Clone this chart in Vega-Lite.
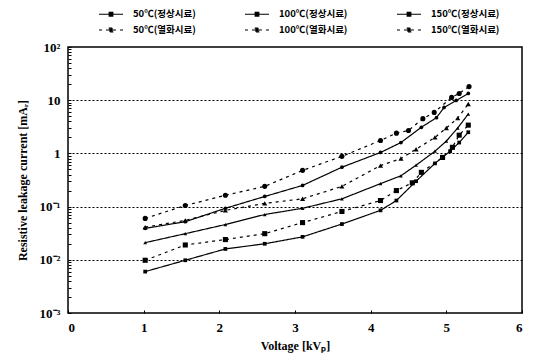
{
  "$schema": "https://vega.github.io/schema/vega-lite/v6.json",
  "width": 454,
  "height": 266,
  "autosize": {"type": "none"},
  "padding": {"left": 68, "top": 47, "right": 14, "bottom": 49},
  "background": "white",
  "config": {"view": {"stroke": "black", "strokeWidth": 1.5}, "font": "Liberation Serif"},
  "data": {"values": [
    {"s": "50℃(정상시료)", "t": 50, "c": "정상", "v": 1.02, "i": 0.006},
    {"s": "50℃(정상시료)", "t": 50, "c": "정상", "v": 1.55, "i": 0.0098},
    {"s": "50℃(정상시료)", "t": 50, "c": "정상", "v": 2.08, "i": 0.016},
    {"s": "50℃(정상시료)", "t": 50, "c": "정상", "v": 2.6, "i": 0.02},
    {"s": "50℃(정상시료)", "t": 50, "c": "정상", "v": 3.1, "i": 0.027},
    {"s": "50℃(정상시료)", "t": 50, "c": "정상", "v": 3.62, "i": 0.047},
    {"s": "50℃(정상시료)", "t": 50, "c": "정상", "v": 4.13, "i": 0.085},
    {"s": "50℃(정상시료)", "t": 50, "c": "정상", "v": 4.34, "i": 0.13},
    {"s": "50℃(정상시료)", "t": 50, "c": "정상", "v": 4.6, "i": 0.3},
    {"s": "50℃(정상시료)", "t": 50, "c": "정상", "v": 4.85, "i": 0.65},
    {"s": "50℃(정상시료)", "t": 50, "c": "정상", "v": 5.05, "i": 1.1},
    {"s": "50℃(정상시료)", "t": 50, "c": "정상", "v": 5.17, "i": 1.6},
    {"s": "50℃(정상시료)", "t": 50, "c": "정상", "v": 5.29, "i": 2.5},
    {"s": "100℃(정상시료)", "t": 100, "c": "정상", "v": 1.02, "i": 0.021},
    {"s": "100℃(정상시료)", "t": 100, "c": "정상", "v": 1.55, "i": 0.031},
    {"s": "100℃(정상시료)", "t": 100, "c": "정상", "v": 2.08, "i": 0.046},
    {"s": "100℃(정상시료)", "t": 100, "c": "정상", "v": 2.6, "i": 0.071},
    {"s": "100℃(정상시료)", "t": 100, "c": "정상", "v": 3.1, "i": 0.093},
    {"s": "100℃(정상시료)", "t": 100, "c": "정상", "v": 3.62, "i": 0.14},
    {"s": "100℃(정상시료)", "t": 100, "c": "정상", "v": 4.13, "i": 0.27},
    {"s": "100℃(정상시료)", "t": 100, "c": "정상", "v": 4.4, "i": 0.38},
    {"s": "100℃(정상시료)", "t": 100, "c": "정상", "v": 4.6, "i": 0.6},
    {"s": "100℃(정상시료)", "t": 100, "c": "정상", "v": 4.85, "i": 1.1},
    {"s": "100℃(정상시료)", "t": 100, "c": "정상", "v": 5.0, "i": 1.7},
    {"s": "100℃(정상시료)", "t": 100, "c": "정상", "v": 5.15, "i": 3.0},
    {"s": "100℃(정상시료)", "t": 100, "c": "정상", "v": 5.29, "i": 5.5},
    {"s": "150℃(정상시료)", "t": 150, "c": "정상", "v": 1.02, "i": 0.039},
    {"s": "150℃(정상시료)", "t": 150, "c": "정상", "v": 1.55, "i": 0.052},
    {"s": "150℃(정상시료)", "t": 150, "c": "정상", "v": 2.08, "i": 0.093},
    {"s": "150℃(정상시료)", "t": 150, "c": "정상", "v": 2.6, "i": 0.155},
    {"s": "150℃(정상시료)", "t": 150, "c": "정상", "v": 3.1, "i": 0.25},
    {"s": "150℃(정상시료)", "t": 150, "c": "정상", "v": 3.62, "i": 0.55},
    {"s": "150℃(정상시료)", "t": 150, "c": "정상", "v": 4.13, "i": 1.04},
    {"s": "150℃(정상시료)", "t": 150, "c": "정상", "v": 4.4, "i": 1.6},
    {"s": "150℃(정상시료)", "t": 150, "c": "정상", "v": 4.67, "i": 3.1},
    {"s": "150℃(정상시료)", "t": 150, "c": "정상", "v": 4.87, "i": 4.7},
    {"s": "150℃(정상시료)", "t": 150, "c": "정상", "v": 4.97, "i": 7.3},
    {"s": "150℃(정상시료)", "t": 150, "c": "정상", "v": 5.13, "i": 9.9},
    {"s": "150℃(정상시료)", "t": 150, "c": "정상", "v": 5.29, "i": 13.4},
    {"s": "50℃(열화시료)", "t": 50, "c": "열화", "v": 1.02, "i": 0.0098},
    {"s": "50℃(열화시료)", "t": 50, "c": "열화", "v": 1.55, "i": 0.019},
    {"s": "50℃(열화시료)", "t": 50, "c": "열화", "v": 2.08, "i": 0.024},
    {"s": "50℃(열화시료)", "t": 50, "c": "열화", "v": 2.6, "i": 0.031},
    {"s": "50℃(열화시료)", "t": 50, "c": "열화", "v": 3.1, "i": 0.05},
    {"s": "50℃(열화시료)", "t": 50, "c": "열화", "v": 3.62, "i": 0.081},
    {"s": "50℃(열화시료)", "t": 50, "c": "열화", "v": 4.13, "i": 0.13},
    {"s": "50℃(열화시료)", "t": 50, "c": "열화", "v": 4.34, "i": 0.2},
    {"s": "50℃(열화시료)", "t": 50, "c": "열화", "v": 4.55, "i": 0.28},
    {"s": "50℃(열화시료)", "t": 50, "c": "열화", "v": 4.67, "i": 0.44},
    {"s": "50℃(열화시료)", "t": 50, "c": "열화", "v": 4.95, "i": 0.84},
    {"s": "50℃(열화시료)", "t": 50, "c": "열화", "v": 5.08, "i": 1.3},
    {"s": "50℃(열화시료)", "t": 50, "c": "열화", "v": 5.17, "i": 2.2},
    {"s": "50℃(열화시료)", "t": 50, "c": "열화", "v": 5.29, "i": 3.4},
    {"s": "100℃(열화시료)", "t": 100, "c": "열화", "v": 1.02, "i": 0.041},
    {"s": "100℃(열화시료)", "t": 100, "c": "열화", "v": 1.55, "i": 0.055},
    {"s": "100℃(열화시료)", "t": 100, "c": "열화", "v": 2.08, "i": 0.085},
    {"s": "100℃(열화시료)", "t": 100, "c": "열화", "v": 2.6, "i": 0.115},
    {"s": "100℃(열화시료)", "t": 100, "c": "열화", "v": 3.1, "i": 0.14},
    {"s": "100℃(열화시료)", "t": 100, "c": "열화", "v": 3.62, "i": 0.24},
    {"s": "100℃(열화시료)", "t": 100, "c": "열화", "v": 4.13, "i": 0.59},
    {"s": "100℃(열화시료)", "t": 100, "c": "열화", "v": 4.4, "i": 0.8},
    {"s": "100℃(열화시료)", "t": 100, "c": "열화", "v": 4.6, "i": 1.2},
    {"s": "100℃(열화시료)", "t": 100, "c": "열화", "v": 4.85, "i": 2.0},
    {"s": "100℃(열화시료)", "t": 100, "c": "열화", "v": 5.0, "i": 3.0},
    {"s": "100℃(열화시료)", "t": 100, "c": "열화", "v": 5.15, "i": 4.6},
    {"s": "100℃(열화시료)", "t": 100, "c": "열화", "v": 5.29, "i": 8.5},
    {"s": "150℃(열화시료)", "t": 150, "c": "열화", "v": 1.02, "i": 0.06},
    {"s": "150℃(열화시료)", "t": 150, "c": "열화", "v": 1.55, "i": 0.105},
    {"s": "150℃(열화시료)", "t": 150, "c": "열화", "v": 2.08, "i": 0.163},
    {"s": "150℃(열화시료)", "t": 150, "c": "열화", "v": 2.6, "i": 0.24},
    {"s": "150℃(열화시료)", "t": 150, "c": "열화", "v": 3.1, "i": 0.48},
    {"s": "150℃(열화시료)", "t": 150, "c": "열화", "v": 3.62, "i": 0.88},
    {"s": "150℃(열화시료)", "t": 150, "c": "열화", "v": 4.13, "i": 1.75},
    {"s": "150℃(열화시료)", "t": 150, "c": "열화", "v": 4.34, "i": 2.4},
    {"s": "150℃(열화시료)", "t": 150, "c": "열화", "v": 4.5, "i": 2.7},
    {"s": "150℃(열화시료)", "t": 150, "c": "열화", "v": 4.69, "i": 4.5},
    {"s": "150℃(열화시료)", "t": 150, "c": "열화", "v": 4.84, "i": 5.9},
    {"s": "150℃(열화시료)", "t": 150, "c": "열화", "v": 5.07, "i": 11.3},
    {"s": "150℃(열화시료)", "t": 150, "c": "열화", "v": 5.17, "i": 13.4},
    {"s": "150℃(열화시료)", "t": 150, "c": "열화", "v": 5.3, "i": 18}
  ]},
  "encoding": {
    "x": {
      "field": "v", "type": "quantitative",
      "scale": {"domain": [0, 6], "nice": false, "zero": false},
      "axis": {
        "values": [0, 1, 2, 3, 4, 5, 6],
        "grid": false, "domain": false,
        "tickSize": -3, "tickColor": "black",
        "labelPadding": 11, "labelFont": "Liberation Serif", "labelFontSize": 13, "labelFontWeight": "bold", "labelColor": "black",
        "title": "Voltage [kVₚ]", "titleFont": "Liberation Serif", "titleFontSize": 12, "titleFontWeight": "bold", "titleColor": "black", "titlePadding": 6
      }
    },
    "y": {
      "field": "i", "type": "quantitative",
      "scale": {"type": "log", "domain": [0.001, 100], "nice": false},
      "axis": {
        "values": [0.001, 0.002, 0.003, 0.004, 0.005, 0.006, 0.007, 0.008, 0.009, 0.01, 0.02, 0.03, 0.04, 0.05, 0.06, 0.07, 0.08, 0.09, 0.1, 0.2, 0.3, 0.4, 0.5, 0.6, 0.7, 0.8, 0.9, 1, 2, 3, 4, 5, 6, 7, 8, 9, 10, 20, 30, 40, 50, 60, 70, 80, 90, 100],
        "labelExpr": "datum.value==100?'10²':datum.value==10?'10':datum.value==1?'1':datum.value==0.1?'10⁻¹':datum.value==0.01?'10⁻²':datum.value==0.001?'10⁻³':''",
        "labelOverlap": false, "labelBound": false, "labelFlush": false,
        "grid": true, "gridColor": "black", "gridDash": [2, 2], "gridWidth": 1.2,
        "gridOpacity": {"condition": {"test": "datum.value==0.01||datum.value==0.1||datum.value==1||datum.value==10", "value": 1}, "value": 0},
        "domain": false,
        "tickSize": -3, "tickColor": "black",
        "labelPadding": 11, "labelFont": "Liberation Serif", "labelFontSize": 13, "labelFontWeight": "bold", "labelColor": "black",
        "title": "Resistive leakage current [mAᵣ]", "titleFont": "Liberation Serif", "titleFontSize": 12, "titleFontWeight": "bold", "titleColor": "black", "titlePadding": 10
      }
    }
  },
  "layer": [
    {
      "mark": {"type": "line", "color": "black", "strokeWidth": 1.2},
      "encoding": {
        "strokeDash": {
          "field": "s", "type": "nominal",
          "scale": {
            "domain": ["50℃(정상시료)", "100℃(정상시료)", "150℃(정상시료)", "50℃(열화시료)", "100℃(열화시료)", "150℃(열화시료)"],
            "range": [[1, 0], [1, 0], [1, 0], [3, 4], [3, 4], [3, 4]]
          },
          "legend": {
            "orient": "none", "legendX": 36, "legendY": -40,
            "direction": "horizontal", "columns": 3, "title": null,
            "symbolType": "M-2,0H2M-0.3,-0.3H0.3V0.3H-0.3Z",
            "symbolSize": 144, "symbolStrokeWidth": 1.2, "symbolStrokeColor": "black", "symbolFillColor": "black",
            "labelFont": "Noto Sans CJK KR", "labelFontSize": 9.5, "labelFontWeight": "bold", "labelColor": "black",
            "labelOffset": 15, "columnPadding": 46, "rowPadding": 4
          }
        }
      }
    },
    {
      "mark": {"type": "point", "filled": true, "color": "black", "opacity": 1},
      "encoding": {
        "shape": {
          "field": "t", "type": "nominal",
          "scale": {"domain": [50, 100, 150], "range": ["square", "triangle-up", "circle"]},
          "legend": null
        },
        "size": {
          "field": "c", "type": "nominal",
          "scale": {"domain": ["정상", "열화"], "range": [14, 26]},
          "legend": null
        },
        "detail": {"field": "s", "type": "nominal"}
      }
    }
  ]
}
